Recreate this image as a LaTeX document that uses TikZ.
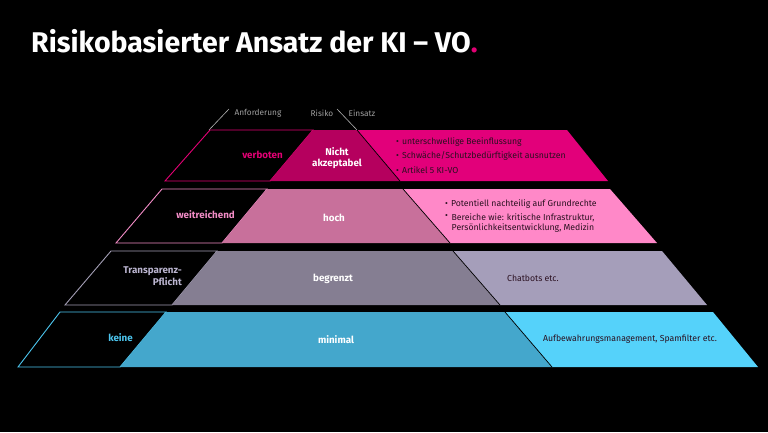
\documentclass[tikz,border=0pt]{standalone}
\usepackage{fontspec}
\setmainfont{Fira Sans}
\definecolor{tmag}{HTML}{E20074}
\definecolor{rAdark}{HTML}{B5005E}
\definecolor{rAright}{HTML}{E2007A}
\definecolor{rBline}{HTML}{F28CC6}
\definecolor{rBdark}{HTML}{C8709B}
\definecolor{rBright}{HTML}{FF88C8}
\definecolor{rCline}{HTML}{A39EB5}
\definecolor{rCtext}{HTML}{BBB5D0}
\definecolor{rCdark}{HTML}{857E92}
\definecolor{rCright}{HTML}{A59EBA}
\definecolor{rDline}{HTML}{4CC5EE}
\definecolor{rDdark}{HTML}{44A7CC}
\definecolor{rDright}{HTML}{55D2FA}
\definecolor{ptext}{HTML}{2A1020}
\begin{document}
\begin{tikzpicture}[x=1pt,y=-1pt,
  outl/.style={line width=0.9pt},
  sepl/.style={black,line width=0.7pt},
  hdr/.style={text=gray!75,font=\fontsize{8.3}{9}\selectfont,inner sep=0pt},
  lbl/.style={font=\fontsize{9.8}{11.5}\selectfont\bfseries,inner sep=0pt,anchor=east,align=right},
  mid/.style={font=\fontsize{9.8}{11.5}\selectfont\bfseries,inner sep=0pt,text=white,align=center},
  bul/.style={font=\fontsize{8.7}{10}\selectfont,inner sep=0pt,anchor=west,align=left,text=ptext}]
\fill[black] (0,0) rectangle (768,432);
\useasboundingbox (0,0) rectangle (768,432);
% title
\node[anchor=base west,inner sep=0pt,text=white,font=\fontsize{28.5}{32}\selectfont\bfseries] (title) at (31,52) {Risikobasierter Ansatz der KI -- VO\textcolor{tmag}{.}};
% header
\coordinate (hl1) at (209,130); \coordinate (hl2) at (229,109);
\coordinate (hr1) at (337,109); \coordinate (hr2) at (357,130);
\draw[gray!60,line width=0.6pt] (hl1) -- (hl2);
\draw[gray!60,line width=0.6pt] (hr1) -- (hr2);
\node[hdr] (h1) at (258,113) {Anforderung};
\node[hdr] (h2) at (322,113) {Risiko};
\node[hdr] (h3) at (362,113) {Einsatz};
% row 1
\draw[outl,tmag] (210,130) -- (313,130) -- (270,181) -- (165,181) -- cycle;
\fill[rAdark] (313,130) -- (357,130) -- (400,181) -- (270,181) -- cycle;
\fill[rAright] (357,130) -- (567,130) -- (608,181) -- (400,181) -- cycle;
\draw[sepl] (357,130) -- (400,181);
\node[lbl,text=tmag] (l1) at (283,155) {verboten};
\node[mid] (m1) at (337,158) {Nicht\\[-1pt]akzeptabel};
\node[bul] (b11) at (396,142) {•\hspace{3pt}unterschwellige Beeinflussung};
\node[bul] (b12) at (396,156) {•\hspace{3pt}Schwäche/Schutzbedürftigkeit ausnutzen};
\node[bul] (b13) at (396,170) {•\hspace{3pt}Artikel 5 KI-VO};
% row 2
\draw[outl,rBline] (162,189) -- (267,189) -- (222,243) -- (116,243) -- cycle;
\fill[rBdark] (267,189) -- (403,189) -- (450,243) -- (222,243) -- cycle;
\fill[rBright] (403,189) -- (610,189) -- (657,243) -- (450,243) -- cycle;
\draw[sepl] (403,189) -- (450,243);
\node[lbl,text=rBline] (l2) at (235,215) {weitreichend};
\node[mid] (m2) at (334,218) {hoch};
\node[bul] (b21) at (445,204) {•\hspace{3pt}Potentiell nachteilig auf Grundrechte};
\node[bul,anchor=north west] (b22) at (445,214) {•};
\node[bul,anchor=north west] (b22t) at (451.5,214) {Bereiche wie: kritische Infrastruktur,\\Persönlichkeitsentwicklung, Medizin};
% row 3
\draw[outl,rCline] (111,251) -- (217,251) -- (172,305) -- (65,305) -- cycle;
\fill[rCdark] (217,251) -- (453,251) -- (500,305) -- (172,305) -- cycle;
\fill[rCright] (453,251) -- (662,251) -- (707,305) -- (500,305) -- cycle;
\draw[sepl] (453,251) -- (500,305);
\node[lbl,text=rCtext] (l3) at (182,276) {Transparenz-\\Pflicht};
\node[mid] (m3) at (333,279) {begrenzt};
\node[bul,anchor=center] (b31) at (533,278) {Chatbots etc.};
% row 4
\draw[outl,rDline] (60,312) -- (166,312) -- (120,367) -- (18,367) -- cycle;
\fill[rDdark] (166,312) -- (505,312) -- (552,367) -- (120,367) -- cycle;
\fill[rDright] (505,312) -- (713,312) -- (758,367) -- (552,367) -- cycle;
\draw[sepl] (505,312) -- (552,367);
\node[lbl,text=rDline] (l4) at (133,338) {keine};
\node[mid] (m4) at (336,340) {minimal};
\node[bul,anchor=center] (b41) at (630,339) {Aufbewahrungsmanagement, Spamfilter etc.};
\end{tikzpicture}
\end{document}
